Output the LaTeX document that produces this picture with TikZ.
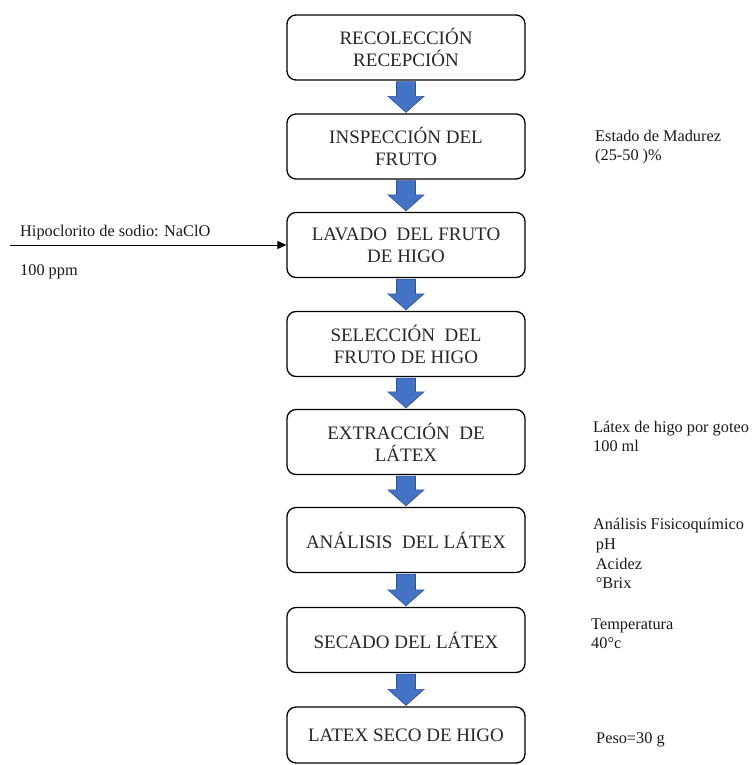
\documentclass[tikz,border=0pt]{standalone}
\usepackage{fontspec}
\setmainfont{Liberation Serif}
\newfontfamily\tnr{Liberation Serif}
\usetikzlibrary{calc,arrows.meta}
\tikzset{
  stepbox/.style={draw=black, line width=1.3pt, rounded corners=9pt, minimum width=238pt, minimum height=65pt, align=center, inner sep=0pt, font=\tnr\fontsize{19}{22}\selectfont, text=black!85},
  sidelabel/.style={anchor=west, align=left, inner sep=0pt, font=\tnr\fontsize{16.3}{19}\selectfont, text=black!90},
  barrow/.style={fill={rgb,255:red,68;green,114;blue,196}, draw={rgb,255:red,47;green,82;blue,143}, line width=0.6pt},
}
\begin{document}
\begin{tikzpicture}[x=1pt,y=-1pt]
\useasboundingbox (0,0) rectangle (753,765);
\node[stepbox] (b1) at (406,47.5) {RECOLECCIÓN\\RECEPCIÓN};
\node[stepbox] (b2) at (406,146.5) {INSPECCIÓN DEL\\FRUTO};
\node[stepbox] (b3) at (406,245) {LAVADO\ \ DEL FRUTO\\DE HIGO};
\node[stepbox] (b4) at (406,344) {SELECCIÓN\ \ DEL\\FRUTO DE HIGO};
\node[stepbox] (b5) at (406,442) {EXTRACCIÓN\ \ DE\\LÁTEX};
\node[stepbox] (b6) at (406,540) {ANÁLISIS\ \ DEL LÁTEX};
\node[stepbox] (b7) at (406,640) {SECADO DEL LÁTEX};
\node[stepbox, minimum height=56pt] (b8) at (406,735) {LATEX SECO DE HIGO};

\foreach \a/\b in {b1/b2,b2/b3,b3/b4,b4/b5,b5/b6,b6/b7,b7/b8}{
  \draw[barrow] let \p1=(\a.south), \p2=(\b.north) in
    (\x1-9.5pt,\y1-1pt) -- (\x1+9.5pt,\y1-1pt) -- (\x1+9.5pt,\y2+17pt) -- (\x1+18pt,\y2+17pt)
    -- (\x1,\y2+1pt) -- (\x1-18pt,\y2+17pt) -- (\x1-9.5pt,\y2+17pt) -- cycle;
}

\coordinate (in) at (10,245);
\draw[line width=0.8pt, -{Triangle[length=9pt,width=8pt]}] (in) -- (b3.west);
\node[sidelabel] (l1) at (20,233) {Hipoclorito de sodio: NaClO};
\node[sidelabel] (l2) at (20,272) {100 ppm};

\node[sidelabel] (r1) at (595,147.5) {Estado de Madurez\\(25-50 )\%};
\node[sidelabel] (r2) at (593,436) {Látex de higo por goteo\\100 ml};
\node[sidelabel, font=\tnr\fontsize{16.3}{19.7}\selectfont] (r3) at (593,553.5) {Análisis Fisicoquímico\\\,pH\\\,Acidez\\\,°Brix};
\node[sidelabel] (r4) at (591,634) {Temperatura\\40°c};
\node[sidelabel] (r5) at (596,740) {Peso=30 g};
\end{tikzpicture}
\end{document}
